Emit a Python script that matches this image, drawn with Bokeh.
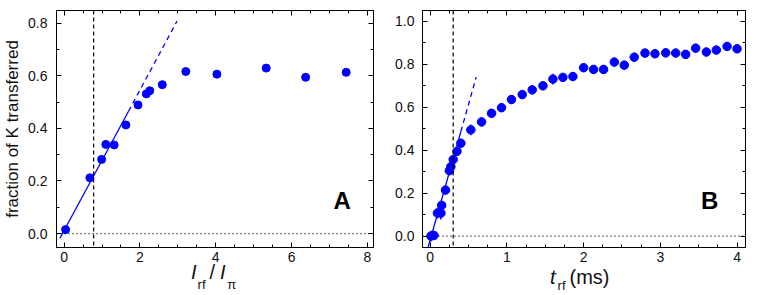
import numpy as np
from bokeh.plotting import figure
from bokeh.layouts import row, column
from bokeh.models import (LinearAxis, Span, Label, ColumnDataSource, Range1d, FixedTicker,
                          NumeralTickFormatter, CustomJSTickFormatter, Div)
from bokeh.embed import file_html
from bokeh.resources import INLINE

# ---------------- data ----------------
# Panel A: fraction transferred vs I_rf / I_pi
a_x = [0.04, 0.68, 0.99, 1.10, 1.32, 1.63, 1.95, 2.17, 2.26, 2.59, 3.21, 4.03, 5.33, 6.37, 7.44]
a_y = [0.015, 0.212, 0.282, 0.339, 0.337, 0.413, 0.489, 0.531, 0.543, 0.566, 0.616, 0.606, 0.629, 0.594, 0.613]
a_fit_solid_x = [-0.11, 1.70]
a_fit_solid_y = [-0.018, 0.465]
a_fit_dash_x = [1.70, 2.98]
a_fit_dash_y = [0.465, 0.808]
a_vline = 0.78
a_xticks = [0, 2, 4, 6, 8]
a_yticks = [0.0, 0.2, 0.4, 0.6, 0.8]

# Panel B: fraction transferred vs t_rf (ms)
b_x = [0.01, 0.05, 0.095, 0.14, 0.15, 0.20, 0.25, 0.27, 0.30, 0.35, 0.40, 0.53, 0.67, 0.80, 0.93,
       1.06, 1.20, 1.33, 1.47, 1.60, 1.73, 1.86, 2.00, 2.13, 2.26, 2.40, 2.53, 2.66, 2.80, 2.93,
       3.07, 3.20, 3.33, 3.46, 3.60, 3.73, 3.87, 4.00]
b_y = [0.000, 0.003, 0.107, 0.107, 0.143, 0.214, 0.304, 0.323, 0.356, 0.394, 0.432, 0.494, 0.531, 0.571, 0.597,
       0.635, 0.658, 0.680, 0.699, 0.730, 0.738, 0.742, 0.783, 0.775, 0.775, 0.809, 0.795, 0.832, 0.851, 0.848,
       0.852, 0.851, 0.845, 0.874, 0.856, 0.865, 0.882, 0.871]
b_err = [0.025, 0.02, 0.025, 0.03, 0.02, 0.02, 0.02, 0.02, 0.02, 0.02, 0.02, 0.025, 0.02, 0.02, 0.02,
         0.02, 0.02, 0.02, 0.02, 0.025, 0.02, 0.02, 0.02, 0.02, 0.02, 0.02, 0.02, 0.02, 0.02, 0.02,
         0.02, 0.02, 0.02, 0.02, 0.02, 0.02, 0.02, 0.02]
b_fit_solid_x = [-0.028, 0.40]
b_fit_solid_y = [-0.053, 0.486]
b_fit_dash_x = [0.40, 0.60]
b_fit_dash_y = [0.486, 0.739]
b_vline = 0.30
b_xticks = [0, 1, 2, 3, 4]
b_yticks = [0.0, 0.2, 0.4, 0.6, 0.8, 1.0]

y_title = "fraction of K transferred"

BLUE = "#0000ff"
FONT = "Liberation Sans"
TXT = "#111111"
PANEL_H = 269
LABEL_H = 26


def make_panel(width, xr, yr, xticks, xminor, yticks, yminor, bl, br, ystand):
    p = figure(width=width, height=PANEL_H, output_backend="svg", toolbar_location=None,
               x_range=Range1d(*xr), y_range=Range1d(*yr),
               min_border_left=bl, min_border_right=br, min_border_top=10, min_border_bottom=22)
    p.grid.visible = False
    p.outline_line_color = "black"
    p.outline_line_width = 1
    bottom = p.below[0]
    left = p.left[0]
    xt = FixedTicker(ticks=xticks, minor_ticks=xminor)
    yt = FixedTicker(ticks=yticks, minor_ticks=yminor)
    bottom.ticker = xt
    left.ticker = yt
    left.formatter = NumeralTickFormatter(format="0.0")
    blank = CustomJSTickFormatter(code="return ''")
    top = LinearAxis(ticker=xt, formatter=blank, major_label_standoff=0)
    right = LinearAxis(ticker=yt, formatter=blank, major_label_standoff=0)
    p.add_layout(top, "above")
    p.add_layout(right, "right")
    for ax in (bottom, left, top, right):
        ax.major_tick_in = 5
        ax.major_tick_out = 0
        ax.minor_tick_in = 3
        ax.minor_tick_out = 0
        ax.axis_line_color = "black"
        ax.major_tick_line_color = "black"
        ax.minor_tick_line_color = "black"
        ax.major_label_text_font = FONT
        ax.major_label_text_color = TXT
        ax.major_label_text_font_size = "14px"
    bottom.major_label_standoff = 4
    left.major_label_standoff = ystand
    return p


def label_div(width, left_px, top_px, html):
    style = ("position:relative; left:%dpx; top:%dpx; font-family:'Liberation Sans', Arial, sans-serif; "
             "font-size:20px; line-height:22px; color:%s; white-space:nowrap;" % (left_px, top_px, TXT))
    return Div(text='<div style="%s">%s</div>' % (style, html), width=width, height=LABEL_H,
               margin=(0, 0, 0, 0))


def sub(text, down, ml):
    return ('<span style="font-size:13px; position:relative; top:%dpx; margin-left:%.1fpx;">%s</span>'
            % (down, ml, text))


def span(text, ml, italic=False):
    st = "font-style:italic;" if italic else ""
    return '<span style="%s margin-left:%.1fpx;">%s</span>' % (st, ml, text)


# ---------------- panel A ----------------
pa = make_panel(388, (-0.2, 8.16), (-0.053, 0.848), a_xticks, [i * 0.5 for i in range(0, 17)],
                a_yticks, [i * 0.1 for i in range(0, 9)], 52, 15, 9)
pa.left[0].axis_label = y_title
pa.left[0].axis_label_text_font = FONT
pa.left[0].axis_label_text_font_style = "normal"
pa.left[0].axis_label_text_font_size = "17px"
pa.left[0].axis_label_text_color = TXT
pa.left[0].axis_label_standoff = 3

pa.add_layout(Span(location=0, dimension="width", line_color="black", line_dash="1 3", line_width=1.2))
pa.add_layout(Span(location=a_vline, dimension="height", line_color="black", line_dash="4 3", line_width=1.2))
pa.line(a_fit_solid_x, a_fit_solid_y, line_color=BLUE, line_width=1.3)
pa.line(a_fit_dash_x, a_fit_dash_y, line_color=BLUE, line_width=1.3, line_dash="5 4")
pa.scatter(a_x, a_y, size=8, fill_color=BLUE, line_color=BLUE)
pa.add_layout(Label(x=7.56, y=0.073, text="A", text_font=FONT, text_font_style="bold",
                    text_font_size="24px", text_align="right", text_color="black"))

da = label_div(388, 191, -8,
               span("I", 0, True) + sub("rf", 10, 1) + span("/", 4) + span("I", 5, True) + sub("π", 10, 1.5))

# ---------------- panel B ----------------
pb = make_panel(375, (-0.1, 4.11), (-0.053, 1.049), b_xticks, [i * 0.25 for i in range(0, 17)],
                b_yticks, [i * 0.1 for i in range(0, 11)], 34, 18, 8)

pb.add_layout(Span(location=0, dimension="width", line_color="black", line_dash="1 3", line_width=1.2))
pb.add_layout(Span(location=b_vline, dimension="height", line_color="black", line_dash="4 3", line_width=1.2))
pb.line(b_fit_solid_x, b_fit_solid_y, line_color=BLUE, line_width=1.3)
pb.line(b_fit_dash_x, b_fit_dash_y, line_color=BLUE, line_width=1.3, line_dash="5 4")
bx = np.array(b_x)
by = np.array(b_y)
be = np.array(b_err)
src = ColumnDataSource(dict(x=bx, y=by, lo=by - be, hi=by + be))
pb.segment(x0="x", y0="lo", x1="x", y1="hi", source=src, line_color=BLUE, line_width=1.5)
pb.scatter("x", "y", source=src, size=8.5, fill_color=BLUE, line_color=BLUE)
pb.add_layout(Label(x=3.757, y=0.105, text="B", text_font=FONT, text_font_style="bold",
                    text_font_size="24px", text_align="right", text_color="black"))

db = label_div(375, 162, -3, span("t", 0, True) + sub("rf", 6, 2) + span("(ms)", 4))

layout = row(column(pa, da, spacing=0), column(pb, db, spacing=0), spacing=0)
open("out.html", "w").write(file_html(layout, INLINE))
